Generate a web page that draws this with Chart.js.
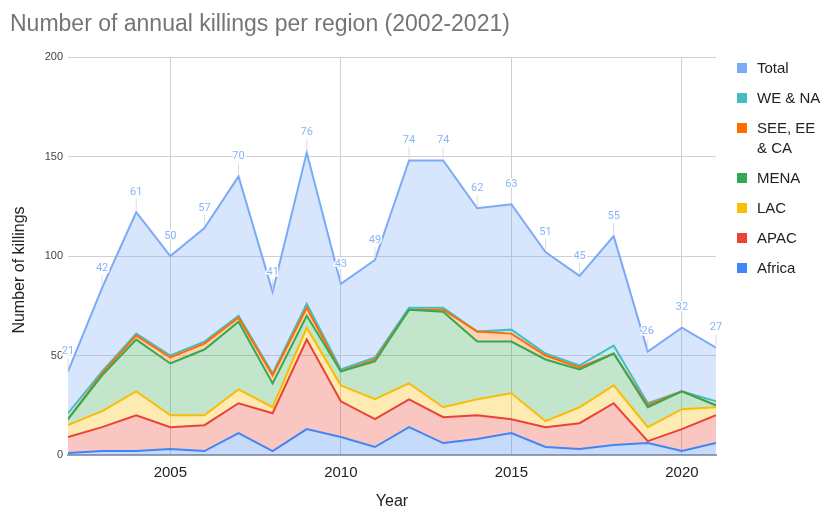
<!DOCTYPE html>
<html lang="en">
<head>
    <meta charset="UTF-8">
    <title>Annual killings per region</title>
    <script src="https://cdn.jsdelivr.net/npm/chart.js@4.4.1/dist/chart.umd.min.js"></script>
    <style>
        body { margin: 0; background: #fff; }
        .wrap { position: relative; width: 832px; height: 510px; }
        canvas { position: absolute; left: 0; top: 0; }
        .title { position: absolute; left: 10px; top: 10px; font: 23px "Liberation Sans", Arial, sans-serif; color: #757575; white-space: nowrap; }
        .legend { position: absolute; left: 737px; top: 58px; font: 15px "Liberation Sans", Arial, sans-serif; color: #222; }
        .legend div { position: relative; padding-left: 20px; line-height: 20px; margin-bottom: 10px; }
        .legend span { position: absolute; left: 0; top: 5px; width: 10px; height: 10px; }
    </style>
</head>
<body>
<div class="wrap">
    <canvas id="chart" width="832" height="510"></canvas>
    <div class="title">Number of annual killings per region (2002-2021)</div>
    <div class="legend" id="legend"></div>
</div>
<script>
    const years = [2002, 2003, 2004, 2005, 2006, 2007, 2008, 2009, 2010, 2011, 2012, 2013, 2014, 2015, 2016, 2017, 2018, 2019, 2020, 2021]
    const africa = [1, 2, 2, 3, 2, 11, 2, 13, 9, 4, 14, 6, 8, 11, 4, 3, 5, 6, 2, 6]
    const apac = [8, 12, 18, 11, 13, 15, 19, 45, 18, 14, 14, 13, 12, 7, 10, 13, 21, 1, 11, 14]
    const lac = [6, 8, 12, 6, 5, 7, 3, 6, 8, 10, 8, 5, 8, 13, 3, 8, 9, 7, 10, 4]
    const mena = [3, 18, 26, 26, 33, 34, 12, 6, 7, 19, 37, 48, 29, 26, 31, 19, 16, 10, 9, 1]
    const seeEeCa = [0, 1, 2, 3, 3, 2, 4, 4, 0, 1, 0, 1, 5, 4, 2, 1, 0, 1, 0, 0]
    const weNa = [3, 1, 1, 1, 1, 1, 1, 2, 1, 1, 1, 1, 0, 2, 1, 1, 4, 1, 0, 2]
    const totals = [21, 42, 61, 50, 57, 70, 41, 76, 43, 49, 74, 74, 62, 63, 51, 45, 55, 26, 32, 27]
    const xTicks = [2005, 2010, 2015, 2020]

    const series = [
        {label: 'Africa', data: africa, color: '#4285f4'},
        {label: 'APAC', data: apac, color: '#ea4335'},
        {label: 'LAC', data: lac, color: '#fbbc04'},
        {label: 'MENA', data: mena, color: '#34a853'},
        {label: 'SEE, EE & CA', data: seeEeCa, color: '#ff6d01'},
        {label: 'WE & NA', data: weNa, color: '#46bdc6'},
        {label: 'Total', data: totals, color: '#7baaf7'},
    ]

    function alpha(hex, a) {
        const n = parseInt(hex.slice(1), 16)
        return `rgba(${n >> 16}, ${(n >> 8) & 255}, ${n & 255}, ${a})`
    }

    const datasets = series.map((s, i) => ({
        label: s.label,
        data: s.data.map((v, j) => ({x: years[j], y: v})),
        borderColor: s.color,
        backgroundColor: alpha(s.color, 0.3),
        borderWidth: 2,
        pointRadius: 0,
        tension: 0,
        fill: i === 0 ? 'origin' : '-1',
    }))

    // labels above the Total line, plus axis titles
    const extras = {
        id: 'extras',
        afterDatasetsDraw(chart) {
            const ctx = chart.ctx
            const meta = chart.getDatasetMeta(series.length - 1)
            ctx.save()
            ctx.font = '11px Roboto, sans-serif'
            ctx.textAlign = 'center'
            ctx.textBaseline = 'middle'
            meta.data.forEach((pt, i) => {
                ctx.strokeStyle = '#dcdcdc'
                ctx.lineWidth = 1
                ctx.beginPath()
                ctx.moveTo(pt.x, pt.y - 2)
                ctx.lineTo(pt.x, pt.y - 13)
                ctx.stroke()
                ctx.strokeStyle = '#fff'
                ctx.lineWidth = 3
                ctx.strokeText(totals[i], pt.x, pt.y - 20)
                ctx.fillStyle = '#8ab4f8'
                ctx.fillText(totals[i], pt.x, pt.y - 20)
            })

            const area = chart.chartArea
            ctx.fillStyle = '#222'
            ctx.font = '16px "Liberation Sans", Arial, sans-serif'
            ctx.fillText('Year', (area.left + area.right) / 2, 502)
            ctx.translate(20, 270)
            ctx.rotate(-Math.PI / 2)
            ctx.fillText('Number of killings', 0, 0)
            ctx.restore()
        }
    }

    new Chart(document.getElementById('chart'), {
        type: 'line',
        data: {datasets},
        options: {
            responsive: false,
            animation: false,
            layout: {padding: {top: 57, right: 116, left: 0, bottom: 0}},
            plugins: {legend: {display: false}, tooltip: {enabled: false}},
            scales: {
                x: {
                    type: 'linear',
                    min: 2002,
                    max: 2021,
                    afterBuildTicks: axis => { axis.ticks = xTicks.map(v => ({value: v})) },
                    afterFit: scale => { scale.height = 55 },
                    grid: {color: '#d0d0d0', drawTicks: false},
                    border: {color: '#9aa0a6', width: 2},
                    ticks: {padding: 9, color: '#222', font: {size: 15, family: 'Liberation Sans, Arial'}, callback: v => String(v)},
                },
                y: {
                    stacked: true,
                    min: 0,
                    max: 200,
                    afterFit: scale => { scale.width = 68 },
                    grid: {color: '#d0d0d0', drawTicks: false},
                    border: {display: false},
                    ticks: {stepSize: 50, padding: 5, color: '#444', font: {size: 11, family: 'Liberation Sans, Arial'}},
                },
            },
        },
        plugins: [extras],
    })

    const legend = document.getElementById('legend')
    series.slice().reverse().forEach(s => {
        legend.innerHTML += `<div><span style="background:${s.color}"></span>${s.label.replace('EE & CA', 'EE<br>&amp; CA')}</div>`
    })
</script>
</body>
</html>
